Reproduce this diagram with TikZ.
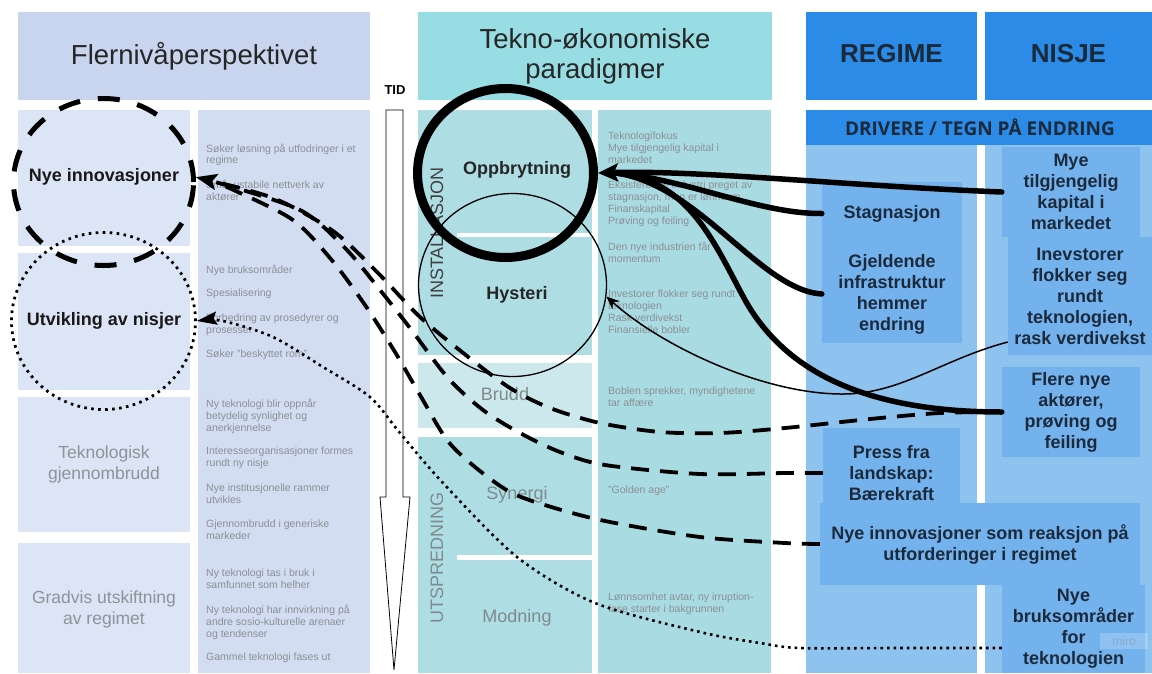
\documentclass[tikz,border=0pt]{standalone}
\usepackage{fontspec}
\setmainfont{Liberation Sans}
\newfontfamily\bannerfont{Open Sans}
\usetikzlibrary{shapes.geometric,arrows.meta}

\definecolor{flhead}{HTML}{C9D5EF}
\definecolor{flcell}{HTML}{DCE5F5}
\definecolor{flnote}{HTML}{D2DDF1}
\definecolor{tehead}{HTML}{97DDE3}
\definecolor{tecell}{HTML}{AEDDE4}
\definecolor{tebreak}{HTML}{CDE8EC}
\definecolor{tenote}{HTML}{A9DBE2}
\definecolor{rnhead}{HTML}{2B8BE6}
\definecolor{rncol}{HTML}{8EC3F0}
\definecolor{rnbox}{HTML}{74B2EE}
\definecolor{navytext}{HTML}{1B2A3B}
\definecolor{notegray}{HTML}{8B9096}
\definecolor{labelgray}{HTML}{8E9399}
\definecolor{phasegray}{HTML}{7E8B8E}

\begin{document}
\begin{tikzpicture}[x=1pt,y=-1pt,
  every node/.style={inner sep=0pt},
  note/.style={anchor=north west, align=left, text=notegray, font=\fontsize{10.5}{11.8}\selectfont},
  headtxt/.style={font=\fontsize{27.5}{30}\selectfont, text=black!85, align=center},
  rnheadtxt/.style={font=\bfseries\fontsize{26}{30}\selectfont, text=navytext},
  driver/.style={fill=rnbox, text=navytext, align=center, font=\bfseries\fontsize{18}{21}\selectfont},
  phasebold/.style={font=\bfseries\fontsize{18}{21}\selectfont, text=black!85},
  phasegrey/.style={font=\fontsize{18}{21}\selectfont, text=phasegray},
  mlpbold/.style={font=\bfseries\fontsize{18}{21}\selectfont, text=black!90},
  mlpgrey/.style={font=\fontsize{17.5}{21}\selectfont, text=labelgray, align=center},
  ring/.style={ellipse, draw=black, inner sep=0pt},
  thickflow/.style={draw=black, line width=5.5pt, line cap=round},
  dashflow/.style={draw=black, line width=3.8pt, dash pattern=on 18pt off 11pt},
  dotflow/.style={draw=black, line width=2.6pt, dash pattern=on 2.6pt off 4pt},
  thinflow/.style={draw=black, line width=1.5pt},
  bighead/.style={-{Stealth[length=20pt,width=18pt,inset=4pt]}},
]
\useasboundingbox (0,0) rectangle (1152,673);
\fill[white] (0,0) rectangle (1152,673);

% ---- multilevel perspective panel
\fill[flhead] (18,12) rectangle (370,100);
\fill[flcell] (18,110) rectangle (190,246);
\fill[flcell] (18,253) rectangle (190,390);
\fill[flcell] (18,397) rectangle (190,532);
\fill[flcell] (18,543) rectangle (190,673);
\fill[flnote] (198,110) rectangle (370,673);

% ---- techno-economic paradigm panel
\fill[tehead] (418,12) rectangle (772,100);
\fill[tecell] (418,110) rectangle (592,355);
\fill[white] (457,233) rectangle (592,237);
\fill[tebreak] (418,363) rectangle (592,428);
\fill[tecell] (418,437) rectangle (592,673);
\fill[white] (457,555) rectangle (592,560);
\fill[tenote] (598,110) rectangle (771,673);

% ---- regime / niche panel
\fill[rnhead] (806,12) rectangle (977,100);
\fill[rnhead] (985,12) rectangle (1152,100);
\fill[rnhead] (806,110) rectangle (1152,145);
\fill[rncol] (806,145) rectangle (977,673);
\fill[rncol] (985,145) rectangle (1152,673);

% ---- time arrow
\draw[line width=0.8pt, fill=white] (386,110) -- (403,110) -- (403,497) -- (410,497) -- (394,670) -- (380,497) -- (386,497) -- cycle;
\node[font=\bfseries\fontsize{13}{13}\selectfont] (tid) at (395,90) {TID};

% ---- headings
\node[headtxt] (flhd) at (194,56) {Flernivåperspektivet};
\node[headtxt] (tehd) at (595,56) {Tekno-økonomiske\\paradigmer};
\node[rnheadtxt] (reghd) at (891.5,54) {REGIME};
\node[rnheadtxt] (nishd) at (1068.5,54) {NISJE};
\node[font=\bannerfont\bfseries\fontsize{19}{19}\selectfont, text=navytext] (drv) at (980,127.5) {DRIVERE / TEGN PÅ ENDRING};

% ---- multilevel phases
\node[mlpbold] (nyeT) at (104,177) {Nye innovasjoner};
\node[mlpbold] (utvT) at (104,321) {Utvikling av nisjer};
\node[mlpgrey] (tekT) at (104,464) {Teknologisk\\gjennombrudd};
\node[mlpgrey] (graT) at (104,609) {Gradvis utskiftning\\av regimet};

\node[note] (n1) at (206,143.5) {Søker løsning på utfodringer i et\\regime};
\node[note] (n2) at (206,180) {Små, ustabile nettverk av\\aktører};
\node[note] (n3) at (206,265) {Nye bruksområder};
\node[note] (n4) at (206,289) {Spesialisering};
\node[note] (n5) at (206,314) {Forbedring av prosedyrer og\\prosesser};
\node[note] (n6) at (206,350) {Søker "beskyttet rom"};
\node[note] (n7) at (206,399) {Ny teknologi blir oppnår\\betydelig synlighet og\\anerkjennelse};
\node[note] (n8) at (206,447) {Interesseorganisasjoner formes\\rundt ny nisje};
\node[note] (n9) at (206,484) {Nye institusjonelle rammer\\utvikles};
\node[note] (n10) at (206,520) {Gjennombrudd i generiske\\markeder};
\node[note] (n11) at (206,569) {Ny teknologi tas i bruk i\\samfunnet som helher};
\node[note] (n12) at (206,605) {Ny teknologi har innvirkning på\\andre sosio-kulturelle arenaer\\og tendenser};
\node[note] (n13) at (206,653) {Gammel teknologi fases ut};

% ---- paradigm phases
\node[phasebold] (oppT) at (517,170) {Oppbrytning};
\node[phasebold] (hysT) at (517,295) {Hysteri};
\node[phasegrey] (bruT) at (505,394) {Brudd};
\node[phasegrey] (synT) at (517,495) {Synergi};
\node[phasegrey] (modT) at (517,618) {Modning};
\node[phasegrey, text=black!75, rotate=90] (instT) at (437,233) {INSTALLASJON};
\node[phasegrey, rotate=90] (utsT) at (437,558) {UTSPREDNING};

\node[note] (m1) at (608,132) {Teknologifokus\\Mye tilgjengelig kapital i\\markedet};
\node[note] (m2) at (608,181) {Eksisterende industri preget av\\stagnasjon, men er lønnsom\\Finanskapital\\Prøving og feiling};
\node[note] (m3) at (608,242) {Den nye industrien får\\momentum};
\node[note] (m4) at (608,290) {Investorer flokker seg rundt\\teknologien\\Rask verdivekst\\Finansielle bobler};
\node[note] (m5) at (608,387) {Boblen sprekker, myndighetene\\tar affære};
\node[note] (m6) at (608,486) {"Golden age"};
\node[note] (m7) at (608,593) {Lønnsomhet avtar, ny irruption-\\fase starter i bakgrunnen};

% ---- drivers
\node[driver, minimum width=140pt, minimum height=63pt] (stag) at (892,213.5) {Stagnasjon};
\node[driver, minimum width=140pt, minimum height=98pt] (gjeld) at (892,294) {Gjeldende\\infrastruktur\\hemmer\\endring};
\node[driver, minimum width=138pt, minimum height=90pt] (mye) at (1071,192) {Mye\\tilgjengelig\\kapital i\\markedet};
\node[driver, minimum width=144pt, minimum height=118pt] (inv) at (1080,296) {Inevstorer\\flokker seg\\rundt\\teknologien,\\rask verdivekst};
\node[driver, minimum width=138pt, minimum height=90pt] (flere) at (1071,412) {Flere nye\\aktører,\\prøving og\\feiling};
\node[driver, minimum width=137pt, minimum height=90pt] (press) at (891.5,473) {Press fra\\landskap:\\Bærekraft};
\node[driver, minimum width=320pt, minimum height=82pt] (reaks) at (980,544) {Nye innovasjoner som reaksjon på\\utforderinger i regimet};
\node[driver, minimum width=143pt, minimum height=88pt] (bruk) at (1073.5,629) {Nye\\bruksområder\\for\\teknologien};
\node[fill=white, fill opacity=0.2, text opacity=0.35, text=gray, font=\fontsize{12}{12}\selectfont, minimum width=48pt, minimum height=16pt] (miro) at (1124,641) {miro};

% ---- rings
\node[ring, minimum width=180pt, minimum height=167pt, line width=5pt, dash pattern=on 22pt off 18pt] (nyeC) at (103.5,182) {};
\node[ring, minimum width=184pt, minimum height=177pt, line width=2.8pt, dash pattern=on 2.6pt off 4.4pt] (utvC) at (103.5,321) {};
\node[ring, minimum width=176pt, minimum height=169pt, line width=9pt] (oppC) at (505.5,173) {};
\node[ring, minimum width=188pt, minimum height=183pt, line width=1.3pt] (hysC) at (512.5,285) {};

\coordinate (oppBase) at ([xshift=18pt]oppC.east);
\coordinate (nyeBase) at ([xshift=20pt,yshift=-5pt]nyeC.3);

% ---- niche signals towards new innovations
\draw[dashflow] plot[smooth, tension=0.5] coordinates {(reaks.west) (785,543) (700,537) (605,521) (548,506) (510,492) (475,467) (447,440) (420,395) (395,352) (365,305) (330,258) (290,218) (nyeBase)};
\draw[dashflow] plot[smooth, tension=0.5] coordinates {(press.west) (785,473) (700,474) (605,465) (560,452) (520,433) (483,410) (448,378) (410,328) (380,290) (345,248) (300,210) (nyeBase)};
\draw[dashflow, -{Stealth[length=21pt,width=16pt,inset=4pt]}] plot[smooth, tension=0.5] coordinates {(flere.west) (940,413) (870,419) (785,428) (720,433) (660,432) (600,423) (550,408) (510,388) (467,356) (420,317) (377,272) (333,231) (273,198) (nyeC.3)};

% ---- niche development
\draw[dotflow, -{Stealth[length=20pt,width=13pt,inset=3pt]}] plot[smooth, tension=0.5] coordinates {([yshift=-19pt]bruk.west) (900,648) (800,648) (760,643) (700,632) (595,603) (517,557) (443,483) (400,433) (370,397) (323,367) (273,337) (223,321) (utvC.east)};

% ---- drivers of irruption
\draw[thickflow] (stag.west) .. controls (760,214) and (690,180) .. (oppBase);
\draw[thickflow] (gjeld.west) .. controls (760,290) and (700,185) .. (oppBase);
\draw[thickflow] (flere.west) .. controls (880,412) and (790,380) .. (745,300) .. controls (715,245) and (690,180) .. (oppBase);
\draw[thickflow, bighead] (mye.west) .. controls (850,186) and (700,170) .. (oppC.east);

% ---- investors towards frenzy
\draw[thinflow, -{Stealth[length=13pt,width=11pt]}] ([yshift=-46pt]inv.west) .. controls (940,360) and (900,395) .. (840,394) .. controls (760,393) and (660,345) .. (hysC.-7);
\end{tikzpicture}
\end{document}
